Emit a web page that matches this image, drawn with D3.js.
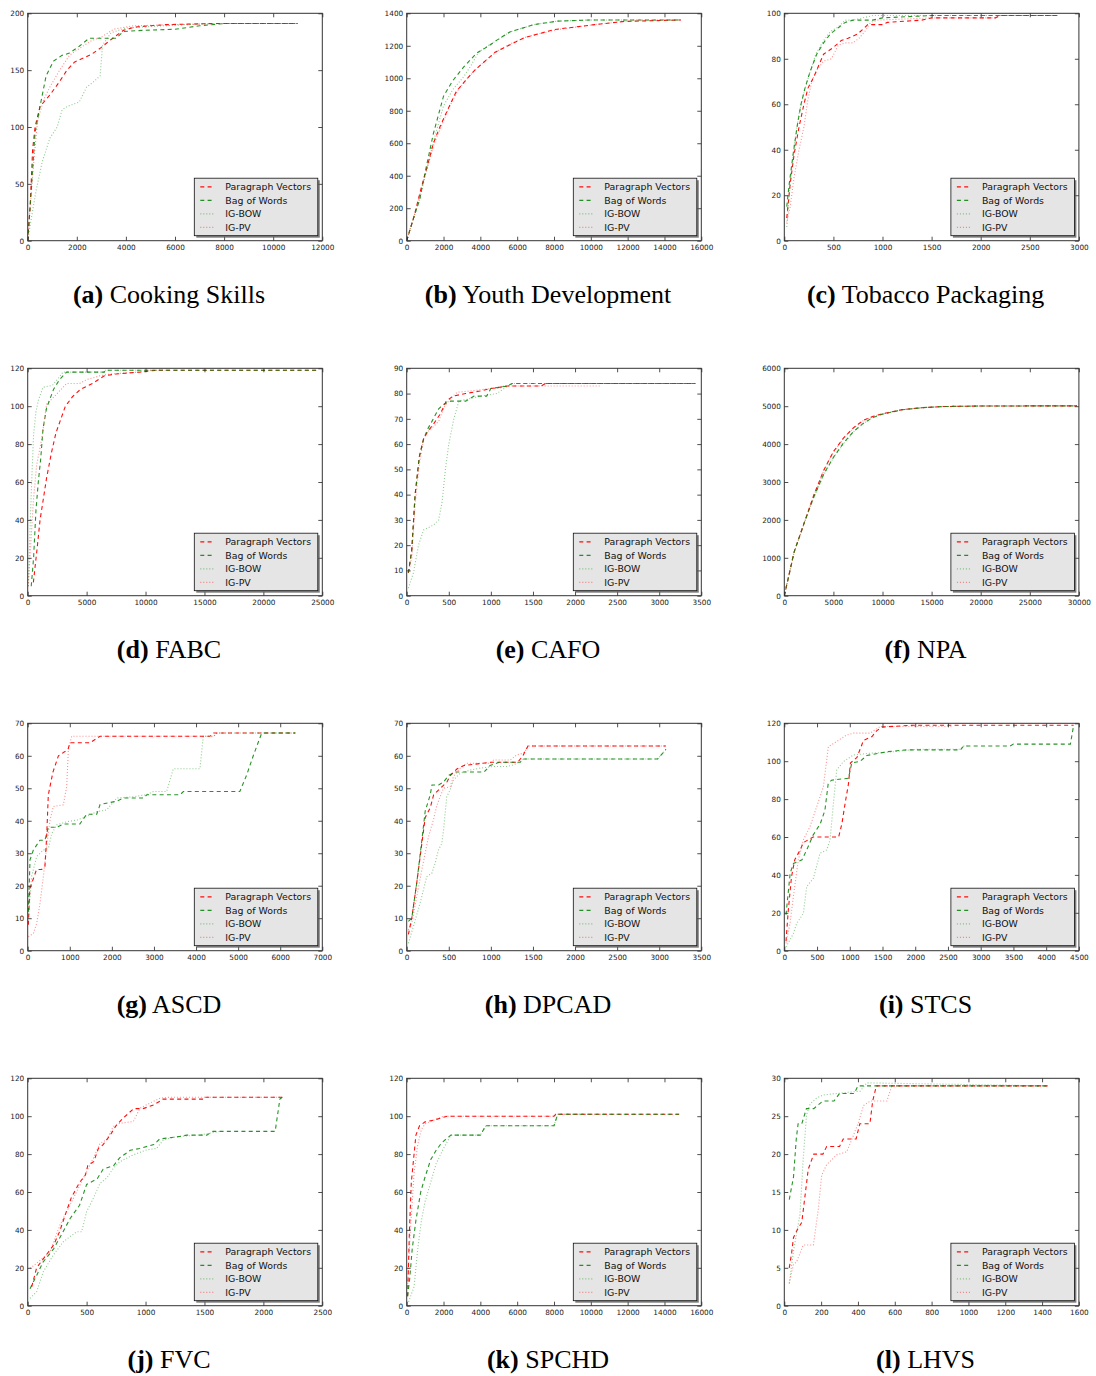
<!DOCTYPE html>
<html><head><meta charset="utf-8">
<script src="https://cdn.jsdelivr.net/npm/d3@7"></script>
<style>
html,body{margin:0;padding:0;background:#fff;}
svg{display:block;}
</style></head>
<body>
<svg id="chart" width="1096" height="1376"></svg>
<script>
// ---------- DATA ----------
const panelLetters = ['a','b','c','d','e','f','g','h','i','j','k','l'];
const panelNames = ['Cooking Skills','Youth Development','Tobacco Packaging','FABC','CAFO','NPA','ASCD','DPCAD','STCS','FVC','SPCHD','LHVS'];
const seriesNames = ['Paragraph Vectors','Bag of Words','IG-BOW','IG-PV'];
const xMaxes = [12000,16000,3000,25000,3500,30000,7000,3500,4500,2500,16000,1600];
const xSteps = [2000,2000,500,5000,500,5000,1000,500,500,500,2000,200];
const yMaxes = [200,1400,100,120,90,6000,70,70,120,120,120,30];
const ySteps = [50,200,20,20,10,1000,10,10,20,20,20,5];

// (a) Cooking Skills
const cookingPV = [[0,0],[100,30],[200,80],[300,100],[500,118],[900,128],[1300,140],[1600,150],[1900,157],[2200,160],[2600,164],[3000,170],[3400,177],[3900,185],[4400,188],[5600,190],[7500,191],[11000,191]];
const cookingBOW = [[0,0],[100,30],[300,95],[500,118],[750,145],[1050,158],[1400,163],[1700,165],[2100,171],[2500,178],[3200,178],[3600,178],[3900,184],[4700,185],[6000,186],[7000,189],[8000,191],[11000,191]];
const cookingIGBOW = [[0,0],[150,20],[350,45],[600,70],[900,90],[1200,100],[1400,115],[1600,118],[2100,122],[2400,135],[2700,140],[2950,145],[3050,172],[3400,183],[4000,187],[5500,189],[7500,191]];
const cookingIGPV = [[0,0],[100,30],[250,70],[400,105],[650,124],[900,135],[1300,150],[1700,163],[2100,169],[2600,176],[3000,179],[3500,186],[4300,189],[6000,190],[8000,191],[11000,191]];
// (b) Youth Development
const youthPV = [[0,0],[400,150],[800,330],[1100,450],[1450,600],[1800,700],[2200,800],[2700,920],[3300,1000],[3700,1050],[4200,1100],[4800,1160],[5500,1200],[6400,1250],[8000,1300],[10200,1330],[11800,1350],[14900,1359]];
const youthBOW = [[0,0],[400,150],[700,250],[1000,420],[1450,660],[2000,890],[2500,985],[3100,1070],[3800,1155],[4400,1195],[4900,1235],[5600,1285],[6900,1330],[8200,1352],[10000,1359],[14900,1359]];
const youthIGBOW = [[0,0],[400,150],[700,250],[1000,400],[1500,630],[2000,830],[2500,930],[3100,1010],[3500,1080],[3900,1160],[4400,1200],[5000,1240],[5600,1285],[6900,1330],[8200,1352],[10000,1359],[14900,1359]];
const youthIGPV = [[0,0],[400,150],[800,320],[1100,440],[1500,600],[1900,710],[2300,820],[2800,930],[3300,1000],[3800,1060],[4300,1110],[4900,1165],[5600,1210],[6500,1255],[8200,1300],[10300,1332],[12000,1352],[14900,1359]];
// (c) Tobacco Packaging
const tobaccoPV = [[25,10],[60,25],[100,38],[150,50],[200,60],[240,67],[300,72],[360,78],[400,82],[500,85],[580,88],[650,89],[750,91],[850,95],[1000,95],[1050,96],[1400,97],[1500,98],[2150,98],[2200,99],[2780,99]];
const tobaccoBOW = [[25,15],[50,25],[90,38],[130,50],[170,60],[210,67],[260,74],[330,82],[400,87],[470,91],[560,94],[620,96],[700,97],[900,97],[1000,98],[1500,99],[2780,99]];
const tobaccoIGBOW = [[25,6],[60,25],[100,42],[150,56],[200,65],[260,74],[320,82],[400,88],[470,92],[550,94],[620,97],[700,97],[900,99],[2780,99]];
const tobaccoIGPV = [[25,8],[60,15],[100,28],[150,40],[200,50],[240,62],[280,70],[330,75],[400,79],[480,80],[550,86],[620,87],[700,87],[760,89],[820,92],[880,96],[950,97],[1500,98],[2150,98],[2200,99],[2780,99]];
// (d) FABC
const fabcPV = [[480,7],[800,25],[1050,40],[1350,52],[1600,62],[2000,75],[2400,86],[2800,93],[3200,100],[3800,105],[4500,109],[5500,112],[6500,116],[7500,117],[9500,118],[11000,119],[24500,119]];
const fabcBOW = [[300,5],[500,20],[700,45],[900,60],[1100,72],[1300,88],[1600,99],[2200,109],[2700,114],[3300,118],[6500,118],[6600,119],[24500,119]];
const fabcIGBOW = [[50,5],[150,25],[250,45],[350,62],[500,85],[700,97],[900,103],[1300,110],[2100,111],[2500,114],[3000,118],[6500,118],[6600,119],[11700,119]];
const fabcIGPV = [[50,5],[200,21],[480,50],[760,69],[1200,83],[1600,101],[2400,106],[3000,110],[3300,112],[4400,112],[5000,114],[6100,116],[7000,117],[9500,118],[10500,119],[11700,119]];
// (e) CAFO
const cafoPV = [[20,9],[60,18],[100,40],[150,55],[200,62],[250,65],[320,68],[400,72],[470,77],[550,79],[700,80],[870,81],[1000,82],[1200,83],[1600,83],[1650,84],[3430,84]];
const cafoBOW = [[20,9],[60,18],[100,40],[150,55],[200,62],[250,66],[300,69],[380,74],[450,76],[520,77],[700,77],[800,79],[950,79],[1000,82],[1200,83],[1250,84],[3430,84]];
const cafoIGBOW = [[20,3],[80,9],[140,20],[200,26],[320,28],[380,30],[420,37],[460,50],[500,60],[560,70],[620,77],[750,78],[880,79],[1070,80],[1200,83],[1270,84],[3430,84]];
const cafoIGPV = [[20,9],[60,15],[100,36],[150,52],[200,62],[250,65],[320,67],[380,69],[450,75],[520,78],[600,80.5],[750,81],[1000,82],[1100,82],[1150,83],[2300,83]];
// (f) NPA
const npaPV = [[0,0],[1000,1150],[2000,1900],[3000,2650],[4000,3300],[5000,3800],[6000,4150],[7000,4420],[8000,4620],[9000,4730],[10000,4800],[12000,4910],[14000,4960],[16000,4990],[20000,5005],[29800,5010]];
const npaBOW = [[0,0],[1000,1150],[2000,1900],[3000,2600],[4000,3200],[5000,3650],[6000,4020],[7000,4320],[8000,4540],[9000,4700],[10000,4790],[12000,4905],[14000,4960],[16000,4990],[20000,5005],[29800,5010]];
const npaIGBOW = [[0,0],[1000,1140],[2000,1890],[3000,2590],[4000,3180],[5000,3640],[6000,4000],[7000,4310],[8000,4530],[9000,4700],[10000,4790],[12000,4905],[14000,4960],[16000,4990],[20000,5005],[29800,5010]];
const npaIGPV = [[0,0],[1000,1150],[2000,1900],[3000,2640],[4000,3290],[5000,3790],[6000,4140],[7000,4410],[8000,4610],[9000,4730],[10000,4800],[12000,4910],[14000,4960],[16000,4990],[20000,5005],[29800,5010]];
// (g) ASCD
const ascdPV = [[16,8],[50,19],[130,22],[210,25],[330,25],[410,26],[450,35],[490,48],[600,55],[730,60],[850,61],[960,62],[1000,64],[1480,64],[1720,66],[4330,66],[4420,67],[6360,67]];
const ascdBOW = [[16,12],[55,28],[135,31],[290,34],[410,34],[490,38],[690,38],[850,39],[1240,39],[1400,42],[1640,42],[1720,45],[2110,46],[2270,47],[2750,47],[2830,48],[3620,48],[3700,49],[5040,49],[5200,54],[5360,60],[5560,67],[6360,67]];
const ascdIGBOW = [[16,10],[95,23],[214,29],[372,31],[491,31.5],[570,36],[689,38.7],[926,39.7],[1164,40.2],[1401,41.3],[1639,42.8],[1876,43.3],[2114,47],[2510,47.4],[2826,48],[2984,49],[3301,49],[3460,56],[4093,56],[4172,66],[4410,66],[4500,67],[6360,67]];
const ascdIGPV = [[16,4.3],[135,5.3],[214,8.4],[293,14.6],[372,22.8],[451,32],[530,40.2],[610,44.4],[847,44.9],[926,50.5],[966,61.8],[1045,66],[4420,66],[4500,67],[4720,67]];
// (h) DPCAD
const dpcadPV = [[20,5],[60,10],[120,21],[180,33],[220,41],[280,44],[320,48],[400,50],[480,52],[520,54],[600,56],[680,57],[1000,58],[1320,58],[1380,60],[1440,63],[3080,63]];
const dpcadBOW = [[20,9],[60,10],[120,21],[180,34],[220,43],[280,48],[300,51],[380,51],[440,52],[500,54],[580,55],[920,55],[990,57],[1100,58],[1350,58],[1380,59],[2980,59],[3050,61],[3080,62]];
const dpcadIGBOW = [[20,2.3],[79,7.4],[159,14.6],[238,22.8],[298,23.8],[337,26.9],[377,31],[417,33],[437,37],[476,47.4],[516,49.5],[556,52.6],[635,54.6],[754,55.6],[873,56.2],[1032,56.7],[1190,56.7],[1270,57.2],[1349,58.2],[1390,59],[2980,59],[3050,61],[3080,62]];
const dpcadIGPV = [[20,6.4],[60,8.4],[119,16.6],[179,24.8],[258,35],[317,40.2],[357,44.6],[397,47.4],[437,50],[516,50.5],[556,53.6],[635,56.2],[714,57.7],[992,57.7],[1032,58.7],[1230,58.7],[1310,60.3],[1389,60.8],[1448,63],[3080,63]];
// (i) STCS
const stcsPV = [[26,5],[60,21],[110,39],[160,48],[240,53],[290,57],[390,59],[440,60],[830,60],[880,67],[930,78],[980,88],[1010,99],[1110,102],[1210,111],[1340,113],[1410,116],[1490,118],[1970,119],[4420,119]];
const stcsBOW = [[26,19],[90,41],[140,46],[270,48],[340,53],[440,61],[550,67],[620,74],[670,88],[720,90],[980,91],[1030,99],[1160,100],[1260,103],[1570,105],[1870,106],[2690,106],[2740,108],[3450,108],[3500,109],[4370,109],[4420,119]];
const stcsIGBOW = [[26,2],[138,9],[189,14.4],[291,19.7],[342,33.8],[444,38.2],[546,51.4],[648,53.2],[699,58.5],[750,77.8],[801,95.4],[903,99.8],[1056,103.3],[1311,104.2],[1668,105],[2025,106.3],[2690,106.3],[2740,108],[2800,108]];
const stcsIGPV = [[26,3.9],[87,14.4],[138,28.5],[214,47.9],[291,58.5],[393,65.5],[495,76],[597,86.6],[673,107.7],[801,110.4],[955,113.9],[1056,114.8],[1311,114.8],[1464,118.3],[2550,118.3]];
// (j) FVC
const fvcPV = [[34,10],[76,20],[160,27],[220,32],[270,39],[330,50],[370,57],[440,65],[490,69],[510,74],[560,76],[600,83],[640,85],[700,90],[750,95],[810,99],[900,104],[980,104],[1070,106],[1150,109],[1210,109],[1490,109],[1500,110],[2160,110]];
const fvcBOW = [[20,9],[76,16],[130,23],[220,30],[300,39],[360,46],[440,53],[500,64],[590,67],[640,72],[730,74],[780,78],[870,82],[950,83],[1070,85],[1120,88],[1260,89],[1350,90],[1520,90],[1570,92],[2100,92],[2140,109],[2160,110]];
const fvcIGBOW = [[20,3.9],[76,7.4],[133,18],[218,26.8],[303,33.8],[359,36.4],[416,39],[458,39],[500,49.6],[557,56.7],[614,64.6],[670,67.3],[726,72.5],[755,74.3],[783,76],[896,79.6],[1009,82.2],[1094,83],[1151,87.5],[1264,89.2],[1462,90.1],[1632,92]];
const fvcIGPV = [[20,19.7],[76,22.4],[190,28.5],[274,42.6],[331,49.6],[416,60.2],[472,67.3],[557,77.8],[614,85.7],[670,87.5],[726,94.5],[783,96.3],[896,97.2],[953,104.2],[1037,106.9],[1123,109.5],[1200,110],[2160,110]];
// (k) SPCHD
const spchdPV = [[50,5],[150,40],[250,65],[400,80],[500,90],[700,95],[1000,97],[1500,98],[2200,100],[8000,100],[8100,101],[14800,101]];
const spchdBOW = [[50,5],[160,14],[300,30],[500,45],[760,60],[1000,68],[1300,77],[1600,82],[1900,86],[2400,90],[4000,90],[4300,95],[8000,95],[8200,101],[14800,101]];
const spchdIGBOW = [[100,2],[400,10],[600,30],[800,45],[1000,55],[1300,65],[1600,75],[2000,83],[2400,90],[4000,90],[4300,95],[8000,95],[8200,101],[10000,101]];
const spchdIGPV = [[50,10],[200,40],[400,70],[600,85],[800,93],[1000,96],[1500,98],[2000,100],[8000,100],[8100,101],[11000,101]];
// (l) LHVS
const lhvsPV = [[27,5],[40,7],[50,9],[70,10],[95,11],[105,13],[130,18],[160,20],[210,20],[230,21],[300,21],[320,22],[390,22],[410,24],[465,24],[480,27],[500,29],[1430,29]];
const lhvsBOW = [[27,14],[50,17],[65,22],[75,24],[95,24],[120,26],[160,26],[210,27],[270,27],[300,28],[380,28],[400,29],[1430,29]];
const lhvsIGBOW = [[27,2.9],[49,7.1],[85,12],[103,19.5],[121,25.2],[140,26.6],[176,27.4],[212,27.8],[285,28],[412,28.3],[448,29.4],[1430,29]];
const lhvsIGPV = [[27,3],[49,5.4],[67,5.8],[103,8],[158,8],[185,12.8],[203,17.2],[230,18.6],[285,19.9],[339,20.3],[376,22.5],[403,24.2],[430,26.4],[467,27],[557,27],[584,29],[1430,29]];

const seriesByPanel = [
  [cookingPV, cookingBOW, cookingIGBOW, cookingIGPV],
  [youthPV, youthBOW, youthIGBOW, youthIGPV],
  [tobaccoPV, tobaccoBOW, tobaccoIGBOW, tobaccoIGPV],
  [fabcPV, fabcBOW, fabcIGBOW, fabcIGPV],
  [cafoPV, cafoBOW, cafoIGBOW, cafoIGPV],
  [npaPV, npaBOW, npaIGBOW, npaIGPV],
  [ascdPV, ascdBOW, ascdIGBOW, ascdIGPV],
  [dpcadPV, dpcadBOW, dpcadIGBOW, dpcadIGPV],
  [stcsPV, stcsBOW, stcsIGBOW, stcsIGPV],
  [fvcPV, fvcBOW, fvcIGBOW, fvcIGPV],
  [spchdPV, spchdBOW, spchdIGBOW, spchdIGPV],
  [lhvsPV, lhvsBOW, lhvsIGBOW, lhvsIGPV]
];

// ---------- STYLE / LAYOUT ----------
const styles = [
  {color:'#ff0000', dash:'4,3.3', opacity:0.95, width:1.1},
  {color:'#008000', dash:'4,3.3', opacity:0.85, width:1.1},
  {color:'#1a9a1a', dash:'1,2', opacity:0.5, width:1.1},
  {color:'#ff2020', dash:'1,2', opacity:0.5, width:1.1}
];
const colLeft = [27.7, 406.7, 784.3];
const rowTop = [13.3, 368.3, 723.3, 1078.3];
const W = 294.6, H = 227.4;

const svg = d3.select('#chart');
const defs = svg.append('defs');

panelLetters.forEach((letter, i) => {
  const x0 = colLeft[i % 3], y0 = rowTop[Math.floor(i / 3)];
  const g = svg.append('g').attr('transform', `translate(${x0},${y0})`);
  const x = d3.scaleLinear().domain([0, xMaxes[i]]).range([0, W]);
  const y = d3.scaleLinear().domain([0, yMaxes[i]]).range([H, 0]);
  const xt = d3.range(0, xMaxes[i] + xSteps[i] / 2, xSteps[i]);
  const yt = d3.range(0, yMaxes[i] + ySteps[i] / 2, ySteps[i]);

  const clipId = 'clip' + i;
  defs.append('clipPath').attr('id', clipId).append('rect').attr('width', W).attr('height', H);

  // lines
  const line = d3.line().x(d => x(d[0])).y(d => y(d[1]));
  const lg = g.append('g').attr('clip-path', `url(#${clipId})`);
  seriesByPanel[i].forEach((s, k) => {
    const st = styles[k];
    lg.append('path').attr('d', line(s)).attr('fill', 'none')
      .attr('stroke', st.color).attr('stroke-opacity', st.opacity)
      .attr('stroke-width', st.width).attr('stroke-dasharray', st.dash);
  });

  // axes
  const fontTick = 'font-family:"DejaVu Sans";font-size:7.3px;fill:#1a1a1a';
  const ax = (gen, tr) => {
    const a = g.append('g').attr('transform', tr).call(gen);
    a.select('.domain').remove();
    a.selectAll('line').attr('stroke', '#222').attr('stroke-width', 0.8);
    a.selectAll('text').attr('style', fontTick);
    return a;
  };
  ax(d3.axisBottom(x).tickValues(xt).tickSizeInner(-4).tickSizeOuter(0).tickPadding(4).tickFormat(d3.format('d')), `translate(0,${H})`);
  ax(d3.axisLeft(y).tickValues(yt).tickSizeInner(-4).tickSizeOuter(0).tickPadding(3.5).tickFormat(d3.format('d')), 'translate(0,0)');
  ax(d3.axisTop(x).tickValues(xt).tickSizeInner(-4).tickSizeOuter(0).tickFormat(''), 'translate(0,0)');
  ax(d3.axisRight(y).tickValues(yt).tickSizeInner(-4).tickSizeOuter(0).tickFormat(''), `translate(${W},0)`);

  // frame
  g.append('rect').attr('width', W).attr('height', H).attr('fill', 'none')
    .attr('stroke', '#333').attr('stroke-width', 1);

  // legend
  const lw = 123.5, lh = 57.5;
  const lx = W - 4.5 - lw, ly = H - 5 - lh;
  const leg = g.append('g').attr('transform', `translate(${lx},${ly})`);
  leg.append('rect').attr('x', 2).attr('y', 2).attr('width', lw).attr('height', lh).attr('fill', '#555').attr('fill-opacity', 0.75);
  leg.append('rect').attr('width', lw).attr('height', lh).attr('fill', '#e5e5e5').attr('stroke', '#111').attr('stroke-width', 0.8);
  seriesNames.forEach((name, k) => {
    const st = styles[k];
    const cy = 8.7 + k * 13.5;
    leg.append('line').attr('x1', 6).attr('x2', 19).attr('y1', cy).attr('y2', cy)
      .attr('stroke', st.color).attr('stroke-opacity', st.opacity)
      .attr('stroke-width', st.width).attr('stroke-dasharray', st.dash);
    leg.append('text').attr('x', 31).attr('y', cy).attr('dy', '0.35em')
      .attr('style', 'font-family:"DejaVu Sans";font-size:9.4px;fill:#111').text(name);
  });

  // caption
  const cap = svg.append('text').attr('x', x0 + W / 2 - 6).attr('y', y0 + H + 62)
    .attr('text-anchor', 'middle')
    .attr('style', 'font-family:"Liberation Serif","Times New Roman",serif;font-size:26px;fill:#000');
  cap.append('tspan').attr('font-weight', 'bold').text(`(${letter})`);
  cap.append('tspan').text(' ' + panelNames[i]);
});
</script>
</body></html>
